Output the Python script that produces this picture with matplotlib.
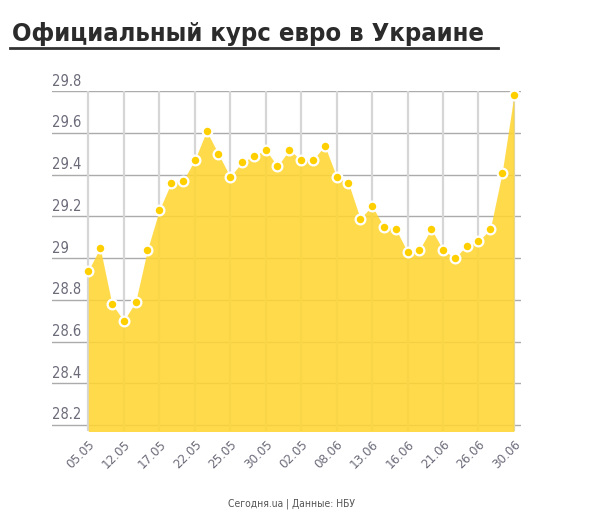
import matplotlib
matplotlib.use("Agg")
import matplotlib.pyplot as plt
from matplotlib import transforms

# Euro rate values, one per day shown (37 points)
rates = [28.94, 29.05, 28.78, 28.70, 28.79, 29.04, 29.23, 29.36, 29.37, 29.47,
         29.61, 29.50, 29.39, 29.46, 29.49, 29.52, 29.44, 29.52, 29.47, 29.47,
         29.54, 29.39, 29.36, 29.19, 29.25, 29.15, 29.14, 29.03, 29.04, 29.14,
         29.04, 29.00, 29.06, 29.08, 29.14, 29.41, 29.78]

# x tick labels, every third point
date_labels = ["05.05", "12.05", "17.05", "22.05", "25.05", "30.05", "02.05",
               "08.06", "13.06", "16.06", "21.06", "26.06", "30.06"]
y_ticks = [28.2, 28.4, 28.6, 28.8, 29.0, 29.2, 29.4, 29.6, 29.8]
y_labels = ["28.2", "28.4", "28.6", "28.8", "29", "29.2", "29.4", "29.6", "29.8"]

plt.rcParams["font.family"] = ["DejaVu Sans"]
plt.rcParams["font.stretch"] = "condensed"

fig = plt.figure(figsize=(6, 5.18), dpi=100)
ax = fig.add_axes([0.0867, 0.168, 0.7817, 0.6557])

x = list(range(len(rates)))
tick_pos = x[::3]

# grid first, fill on top with a bit of transparency
for yt in y_ticks:
    ax.axhline(yt, color="#ababab", lw=1.0, zorder=1)
for xt in tick_pos:
    ax.axvline(xt, color="#d6d6d6", lw=1.6, zorder=1)

ax.fill_between(x, rates, 28.0, color="#ffd633", alpha=0.88, lw=0, zorder=2)
ax.plot(x, rates, ls="none", marker="o", ms=7, mfc="#ffcf00",
        mec="white", mew=1.6, zorder=3)

ax.set_xlim(-3.07, 36.6)
ax.set_ylim(28.171, 29.8)

for s in ax.spines.values():
    s.set_visible(False)
ax.tick_params(length=0)
ax.set_yticks([])
ax.set_xticks(tick_pos)
ax.set_xticklabels(date_labels, rotation=45, ha="right", va="top",
                   rotation_mode="anchor", color="#6b6b7a", fontsize=9.5)
ax.tick_params(axis="x", pad=5)

# y labels sit left aligned just above each gridline
trans = transforms.blended_transform_factory(ax.transAxes, ax.transData)
offs = transforms.offset_copy(trans, fig=fig, x=0, y=4, units="points")
for yt, lab in zip(y_ticks, y_labels):
    ax.text(0.0, yt, lab, transform=offs, ha="left", va="baseline",
            color="#6b6b7a", fontsize=10.5)

# title with underline, size fitted to the reference width
title = fig.text(0.02, 0.92, "Официальный курс евро в Украине", fontsize=24,
                 fontweight="bold", color="#2b2b2b", ha="left", va="baseline")
footer = fig.text(0.486, 0.022, "Сегодня.ua | Данные: НБУ", fontsize=8.5,
                  color="#555555", ha="center", va="baseline")

renderer = fig.canvas.get_renderer()
for t, target in [(title, 473), (footer, 127)]:
    w = t.get_window_extent(renderer).width
    t.set_fontsize(t.get_fontsize() * target / w)

fig.add_artist(plt.Line2D([0.017, 0.83], [0.908, 0.908], color="#333333",
                          lw=2, transform=fig.transFigure))

fig.savefig("out.png", dpi=100)
